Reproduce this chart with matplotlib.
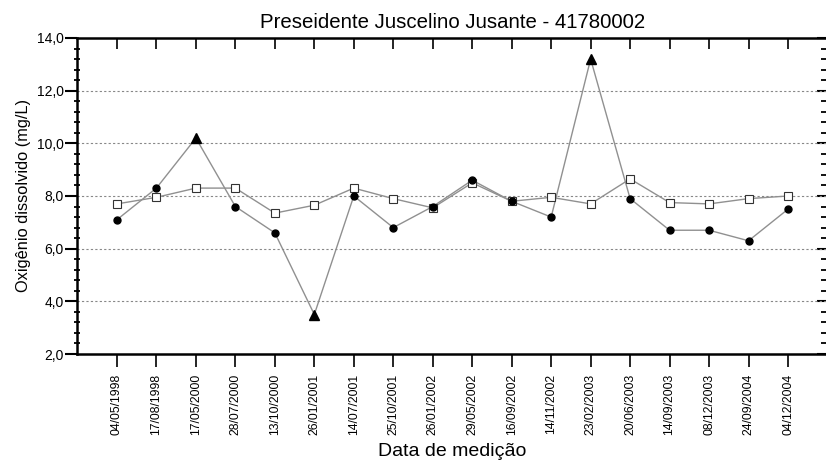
import matplotlib.pyplot as plt
import numpy as np
from matplotlib.ticker import MultipleLocator, FuncFormatter

plt.rcParams['font.family'] = ['Liberation Sans', 'DejaVu Sans']

# Datas das coletas
datas = ["04/05/1998", "17/08/1998", "17/05/2000", "28/07/2000", "13/10/2000",
         "26/01/2001", "14/07/2001", "25/10/2001", "26/01/2002", "29/05/2002",
         "16/09/2002", "14/11/2002", "23/02/2003", "20/06/2003", "14/09/2003",
         "08/12/2003", "24/09/2004", "04/12/2004"]

# Oxigenio dissolvido medido (mg/L)
od_medido = [7.1, 8.3, 10.2, 7.6, 6.6, 3.5, 8.0, 6.8, 7.6, 8.6,
             7.8, 7.2, 13.2, 7.9, 6.7, 6.7, 6.3, 7.5]

# Serie de referencia (quadrados abertos)
od_referencia = [7.7, 7.95, 8.3, 8.3, 7.35, 7.65, 8.3, 7.9, 7.55, 8.5,
                 7.8, 7.95, 7.7, 8.65, 7.75, 7.7, 7.9, 8.0]

# Pontos fora do padrao, marcados com triangulo
outliers = [2, 5, 12]

x = np.arange(1, len(datas) + 1)
od = np.array(od_medido)
mask = np.zeros(len(x), dtype=bool)
mask[outliers] = True

fig = plt.figure(figsize=(8.26, 4.66), dpi=100)
ax = fig.add_axes([0.0938, 0.2403, 0.9080, 0.6782])

ax.plot(x, od_referencia, color='#909090', lw=1.0, marker='s', ms=5.5,
        mfc='white', mec='#333333', mew=0.8, zorder=3)
ax.plot(x, od, color='#909090', lw=1.0, zorder=2)
ax.plot(x[~mask], od[~mask], ls='none', marker='o', ms=5, color='black', zorder=4)
ax.plot(x[mask], od[mask], ls='none', marker='^', ms=7.5, color='black', zorder=4)

ax.set_xlim(0, 19)
ax.set_ylim(2, 14)

ax.yaxis.set_major_locator(MultipleLocator(2))
ax.yaxis.set_minor_locator(MultipleLocator(0.4))
ax.yaxis.set_major_formatter(FuncFormatter(lambda v, p: f"{v:.1f}".replace('.', ',')))
ax.set_xticks(x)
ax.set_xticklabels(datas, rotation=90, fontsize=8.8)

for yv in [4, 6, 8, 10, 12]:
    ax.axhline(yv, color='#888888', lw=0.8, ls=(0, (2, 2)), zorder=1)

for side in ['left', 'bottom', 'top']:
    ax.spines[side].set_linewidth(1.8)
ax.spines['right'].set_visible(False)

ax.tick_params(axis='y', which='major', left=True, right=False, direction='out',
               length=9, width=1.5, labelsize=10, pad=1)
ax.tick_params(axis='y', which='minor', left=True, right=False, direction='inout',
               length=5, width=1.3)
ax.tick_params(axis='x', which='major', bottom=True, top=False, direction='out',
               length=9, width=1.2, pad=5)

# ticks na borda superior e direita apontam para dentro
sec_x = ax.secondary_xaxis('top')
sec_x.set_xticks(x)
sec_x.set_xticklabels([])
sec_x.tick_params(direction='in', length=8, width=1.2)
sec_x.spines['top'].set_visible(False)

sec_y = ax.secondary_yaxis('right')
sec_y.yaxis.set_major_locator(MultipleLocator(2))
sec_y.yaxis.set_minor_locator(MultipleLocator(0.4))
sec_y.set_yticklabels([])
sec_y.tick_params(which='major', direction='in', length=7, width=1.5)
sec_y.tick_params(which='minor', direction='in', length=4, width=1.3)
sec_y.spines['right'].set_visible(False)

ax.set_title("Preseidente Juscelino Jusante - 41780002", fontsize=14.7, pad=7)
ax.set_xlabel("Data de medição", fontsize=14, labelpad=6)
ax.set_ylabel("Oxigênio dissolvido (mg/L)", fontsize=11.8, labelpad=4)

fig.savefig("out.png", dpi=100)
